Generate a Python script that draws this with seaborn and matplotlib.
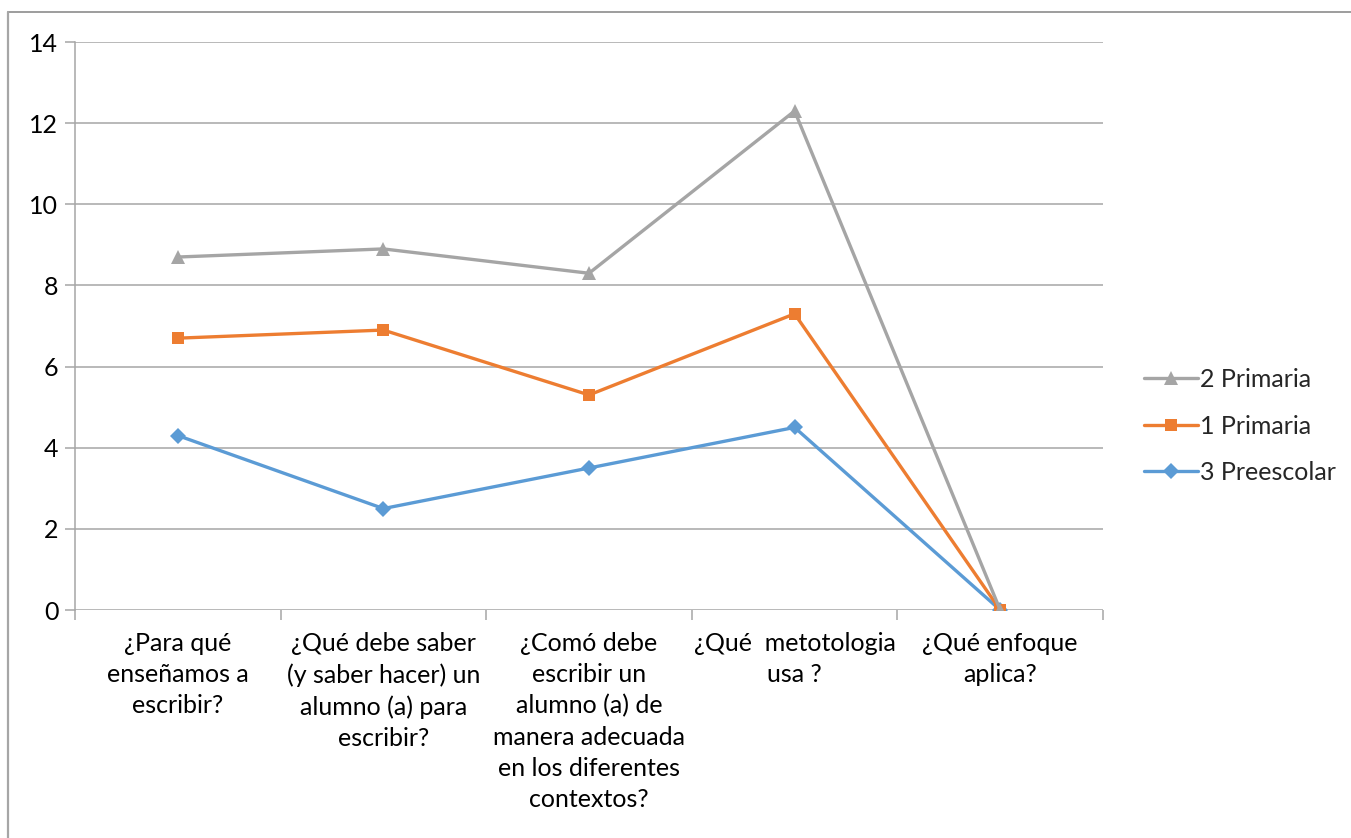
import matplotlib
matplotlib.use("Agg")
import matplotlib.pyplot as plt
from matplotlib.lines import Line2D
import numpy as np
import pandas as pd
import seaborn as sns

categories = [
    "¿Para qué\nenseñamos a\nescribir?",
    "¿Qué debe saber\n(y saber hacer) un\nalumno (a) para\nescribir?",
    "¿Comó debe\nescribir un\nalumno (a) de\nmanera adecuada\nen los diferentes\ncontextos?",
    "¿Qué  metotologia\nusa ?",
    "¿Qué enfoque\naplica?",
]
primaria_2 = [8.7, 8.9, 8.3, 12.3, 0]
primaria_1 = [6.7, 6.9, 5.3, 7.3, 0]
preescolar_3 = [4.3, 2.5, 3.5, 4.5, 0]
y_ticks = [0, 2, 4, 6, 8, 10, 12, 14]

series = [
    ("3 Preescolar", preescolar_3, "#5B9BD5", "D", 8),
    ("1 Primaria", primaria_1, "#ED7D31", "s", 9),
    ("2 Primaria", primaria_2, "#A5A5A5", "^", 10),
]

sns.set_theme(style="white")
plt.rcParams["font.family"] = ["Lato", "DejaVu Sans"]

W, H = 1351, 838
FS = 18
fig = plt.figure(figsize=(W / 100, H / 100), dpi=100)
ax = fig.add_axes([75 / W, 1 - 610 / H, (1103 - 75) / W, (610 - 42) / H])

grid_c = "#a6a6a6"
for name, vals, col, mk, ms in series:
    df = pd.DataFrame({"x": np.arange(len(vals)), "y": vals})
    sns.lineplot(data=df, x="x", y="y", ax=ax, color=col, linewidth=2.4,
                 marker=mk, markersize=ms, markeredgewidth=0, label=name,
                 zorder=3)

ax.set_xlim(-0.5, len(categories) - 0.5)
ax.set_ylim(0, 14)
ax.set_yticks(y_ticks)
ax.set_yticklabels([str(v) for v in y_ticks], fontsize=FS, color="black")
ax.yaxis.grid(True, color=grid_c, linewidth=1.1)
ax.xaxis.grid(False)
ax.set_xlabel("")
ax.set_ylabel("")

# category boundaries as tick marks, labels at centres
ax.set_xticks(np.arange(-0.5, len(categories)), minor=False)
ax.set_xticklabels([""] * (len(categories) + 1))
ax.set_xticks(np.arange(len(categories)), minor=True)
ax.set_xticklabels(categories, minor=True, fontsize=FS, linespacing=1.42,
                   va="top", ha="center", color="black")
ax.tick_params(axis="x", which="major", length=7, width=1.1, color=grid_c,
               direction="out", bottom=True)
ax.tick_params(axis="x", which="minor", length=0, pad=16)
ax.tick_params(axis="y", length=7, width=1.1, color=grid_c, left=True, pad=5)

for s in ["top", "right", "bottom"]:
    ax.spines[s].set_visible(False)
ax.spines["left"].set_color(grid_c)
ax.spines["left"].set_linewidth(1.1)

handles, labels = ax.get_legend_handles_labels()
ax.legend(handles[::-1], labels[::-1], loc="center left",
          bbox_to_anchor=(1134 / W, 1 - 426 / H), bbox_transform=fig.transFigure,
          frameon=False, fontsize=FS, handlelength=2.15, labelspacing=0.95,
          handletextpad=0.1, borderaxespad=0)

# chart frame
fig.add_artist(Line2D([8 / W, 1], [1 - 12 / H, 1 - 12 / H], color="#8c8c8c", lw=1.2))
fig.add_artist(Line2D([8 / W, 8 / W], [0, 1 - 12 / H], color="#a6a6a6", lw=1.6))

fig.savefig("out.png", dpi=100, facecolor="white")
